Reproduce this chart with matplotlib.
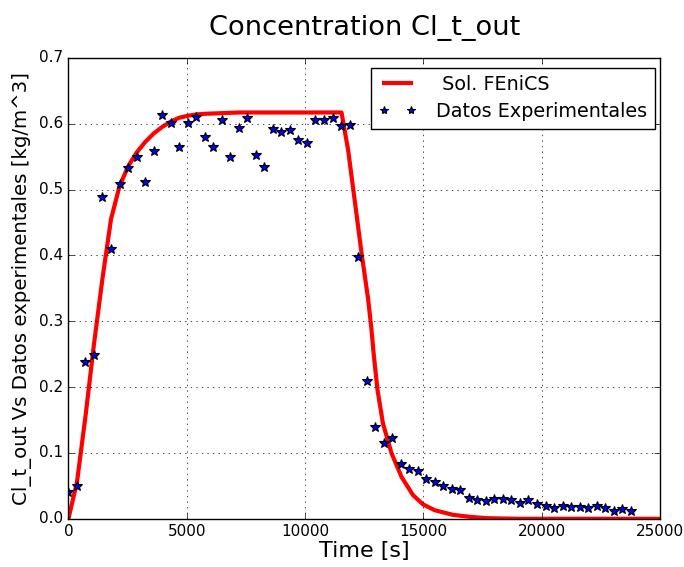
import matplotlib
matplotlib.use("Agg")
import matplotlib.pyplot as plt

# ---------------------------------------------------------
# Data
# ---------------------------------------------------------
# FEniCS solution at the outlet
t_sim = [0, 360, 720, 1080, 1440, 1800, 2160, 2520, 2880, 3240, 3600,
         3960, 4320, 4680, 5040, 5400, 5760, 6480, 7200, 11540, 11820,
         12400, 12660, 12800, 12900, 13060, 13290, 13650, 14070, 14560,
         14980, 15480, 16250, 16960, 17660, 19000, 25000]
c_sim = [0.0, 0.055, 0.155, 0.265, 0.365, 0.455, 0.505, 0.535, 0.556,
         0.572, 0.585, 0.595, 0.603, 0.609, 0.612, 0.614, 0.615, 0.616,
         0.617, 0.617, 0.560, 0.400, 0.335, 0.290, 0.250, 0.196, 0.145,
         0.100, 0.064, 0.036, 0.022, 0.013, 0.006, 0.003, 0.001, 0.0, 0.0]

# experimental data, one sample every 360 s
t_exp = [0, 360, 720, 1080, 1440, 1800, 2160, 2520, 2880, 3240, 3600,
         3960, 4320, 4680, 5040, 5400, 5760, 6120, 6480, 6840, 7200,
         7560, 7920, 8280, 8640, 9000, 9360, 9720, 10080, 10440, 10800,
         11160, 11520, 11880, 12240, 12600, 12960, 13320, 13680, 14040,
         14400, 14760, 15120, 15480, 15840, 16200, 16560, 16920, 17280,
         17640, 18000, 18360, 18720, 19080, 19440, 19800, 20160, 20520,
         20880, 21240, 21600, 21960, 22320, 22680, 23040, 23400, 23760]
c_exp = [0.041, 0.050, 0.238, 0.248, 0.489, 0.410, 0.509, 0.532, 0.549,
         0.511, 0.558, 0.613, 0.601, 0.564, 0.601, 0.610, 0.580, 0.565,
         0.606, 0.550, 0.594, 0.609, 0.552, 0.534, 0.592, 0.588, 0.590,
         0.575, 0.570, 0.605, 0.606, 0.608, 0.597, 0.598, 0.398, 0.210,
         0.139, 0.115, 0.123, 0.083, 0.076, 0.072, 0.061, 0.056, 0.050,
         0.046, 0.043, 0.031, 0.029, 0.027, 0.030, 0.030, 0.028, 0.024,
         0.029, 0.022, 0.019, 0.017, 0.019, 0.018, 0.018, 0.017, 0.019,
         0.016, 0.012, 0.015, 0.012]

# ---------------------------------------------------------
# Plot
# ---------------------------------------------------------
plt.style.use("classic")
fig = plt.figure(figsize=(6.84, 5.67), dpi=100)
ax = fig.add_axes([0.100, 0.085, 0.865, 0.813])

ax.plot(t_sim, c_sim, color="r", lw=3, label=" Sol. FEniCS")
ax.plot(t_exp, c_exp, "*", color="b", mec="k", mew=0.8, ms=7.5,
        label="Datos Experimentales")

ax.set_xlim(0, 25000)
ax.set_ylim(0, 0.7)
ax.set_xticks([0, 5000, 10000, 15000, 20000, 25000])
ax.tick_params(labelsize=11)
ax.grid(True)

ax.set_title("Concentration Cl_t_out", fontsize=19.6, y=1.035)
ax.set_xlabel("Time [s]", fontsize=16, labelpad=1)
ax.set_ylabel("Cl_t_out Vs Datos experimentales [kg/m^3]", fontsize=14.2)
ax.legend(loc="upper right", fontsize=13.8, numpoints=2, markerscale=0.8,
          handletextpad=1.0, borderaxespad=0, labelspacing=0.4,
          bbox_to_anchor=(655 / 684, 1 - 67.5 / 567),
          bbox_transform=fig.transFigure)

fig.savefig("out.png", dpi=100, facecolor="white")
